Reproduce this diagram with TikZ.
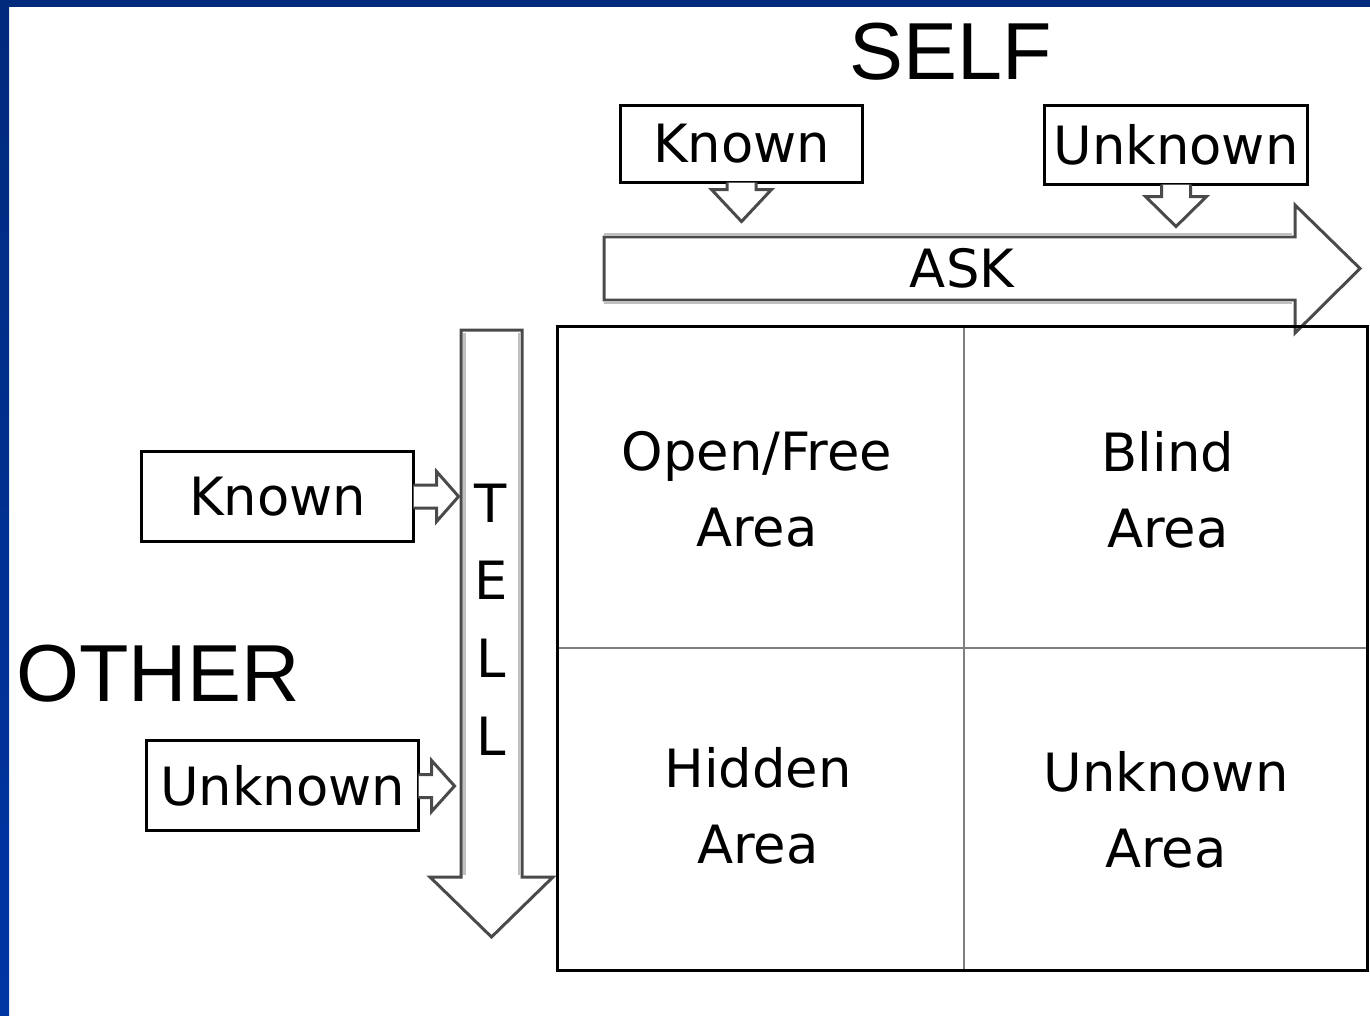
\documentclass[tikz,border=0pt]{standalone}
\usepackage{fontspec}
\setmainfont{DejaVu Sans}
\newfontfamily\bigsans{Liberation Sans}
\usetikzlibrary{calc}
\definecolor{frameblue}{HTML}{002A7C}
\definecolor{frameblueb}{HTML}{0035A4}
\definecolor{arrowedge}{HTML}{4A4A4A}
\definecolor{arrowlight}{HTML}{C0C0C0}

\begin{document}
\begin{tikzpicture}[x=0.01cm,y=-0.01cm,
  lbl/.style={font=\fontsize{15}{18}\selectfont},
  box/.style={lbl,draw=black,line width=0.85pt,fill=white,inner sep=0pt},
  area/.style={align=center,font=\fontsize{15}{21.6}\selectfont},
  blockarrow/.style={draw=arrowedge,line width=0.85pt,fill=white,line join=miter},
  side/.style={font=\bigsans\fontsize{23}{26}\selectfont}]
  \useasboundingbox (0,0) rectangle (1370,1015);
  % frame
  \fill[frameblue] (0,0) rectangle (1370,7);
  \shade[top color=frameblue,bottom color=frameblueb] (0,0) rectangle (9,1015);

  % headings
  \node[side] (self) at (951,52) {SELF};
  \node[side] (other) at (158,674) {OTHER};

  % boxes
  \node[box,minimum width=2.41cm,minimum height=0.76cm] (sknown) at (741.5,144) {Known};
  \node[box,minimum width=2.62cm,minimum height=0.78cm] (sunknown) at (1176,145) {Unknown};
  \node[box,minimum width=2.71cm,minimum height=0.89cm] (oknown) at (277.5,496.5) {Known};
  \node[box,minimum width=2.71cm,minimum height=0.89cm] (ounknown) at (282.5,785.5) {Unknown};

  % ASK and TELL
  \draw[blockarrow] (604,237) -- (1295,237) -- (1295,205) -- (1360,268.5)
    -- (1295,333) -- (1295,300) -- (604,300) -- cycle;
  \draw[arrowlight,line width=0.85pt] (604,234) -- (1292,234) (604,303) -- (1292,303);
  \node[lbl] (ask) at (962,268) {ASK};
  \draw[blockarrow] (461,330) -- (522,330) -- (522,877) -- (553,877)
    -- (491.5,937) -- (430,877) -- (461,877) -- cycle;
  \draw[arrowlight,line width=0.85pt] (464,333) -- (464,875) (519,333) -- (519,875);
  \foreach \l [count=\i] in {T,E,L,L}
    \node[lbl] (tell\i) at (491,{503+77.7*(\i-1)}) {\l};

  % small arrows
  \foreach \b/\s/\w/\h in {sknown/6/15.5/32,sunknown/11/16/30}
    \filldraw[blockarrow] ($(\b.south)+(-14.5,-1)$) -- ++(0,\s+1) -- ++(-\w,0)
      -- ++(\w+14.5,\h) -- ++(\w+14.5,-\h) -- ++(-\w,0) -- ++(0,-\s-1);
  \foreach \b/\s/\w/\h/\c in {oknown/22/13.5/22/0,ounknown/12/14/23/0.5}
    \filldraw[blockarrow] ($(\b.east)+(-1,\c-11.5)$) -- ++(\s+1,0) -- ++(0,-\w)
      -- ++(\h,\w+11.5) -- ++(-\h,\w+11.5) -- ++(0,-\w) -- ++(-\s-1,0);

  % grid
  \draw[gray,line width=0.6pt] (964,326) -- (964,970) (557,648) -- (1367,648);
  \draw[line width=0.85pt] (557,326) rectangle (1367,970);
  \node[area] (open) at (757,489) {Open/Free\\Area};
  \node[area] (blind) at (1168,490) {Blind\\Area};
  \node[area] (hidden) at (758,806) {Hidden\\Area};
  \node[area] (unknown) at (1166,810) {Unknown\\Area};
\end{tikzpicture}
\end{document}
